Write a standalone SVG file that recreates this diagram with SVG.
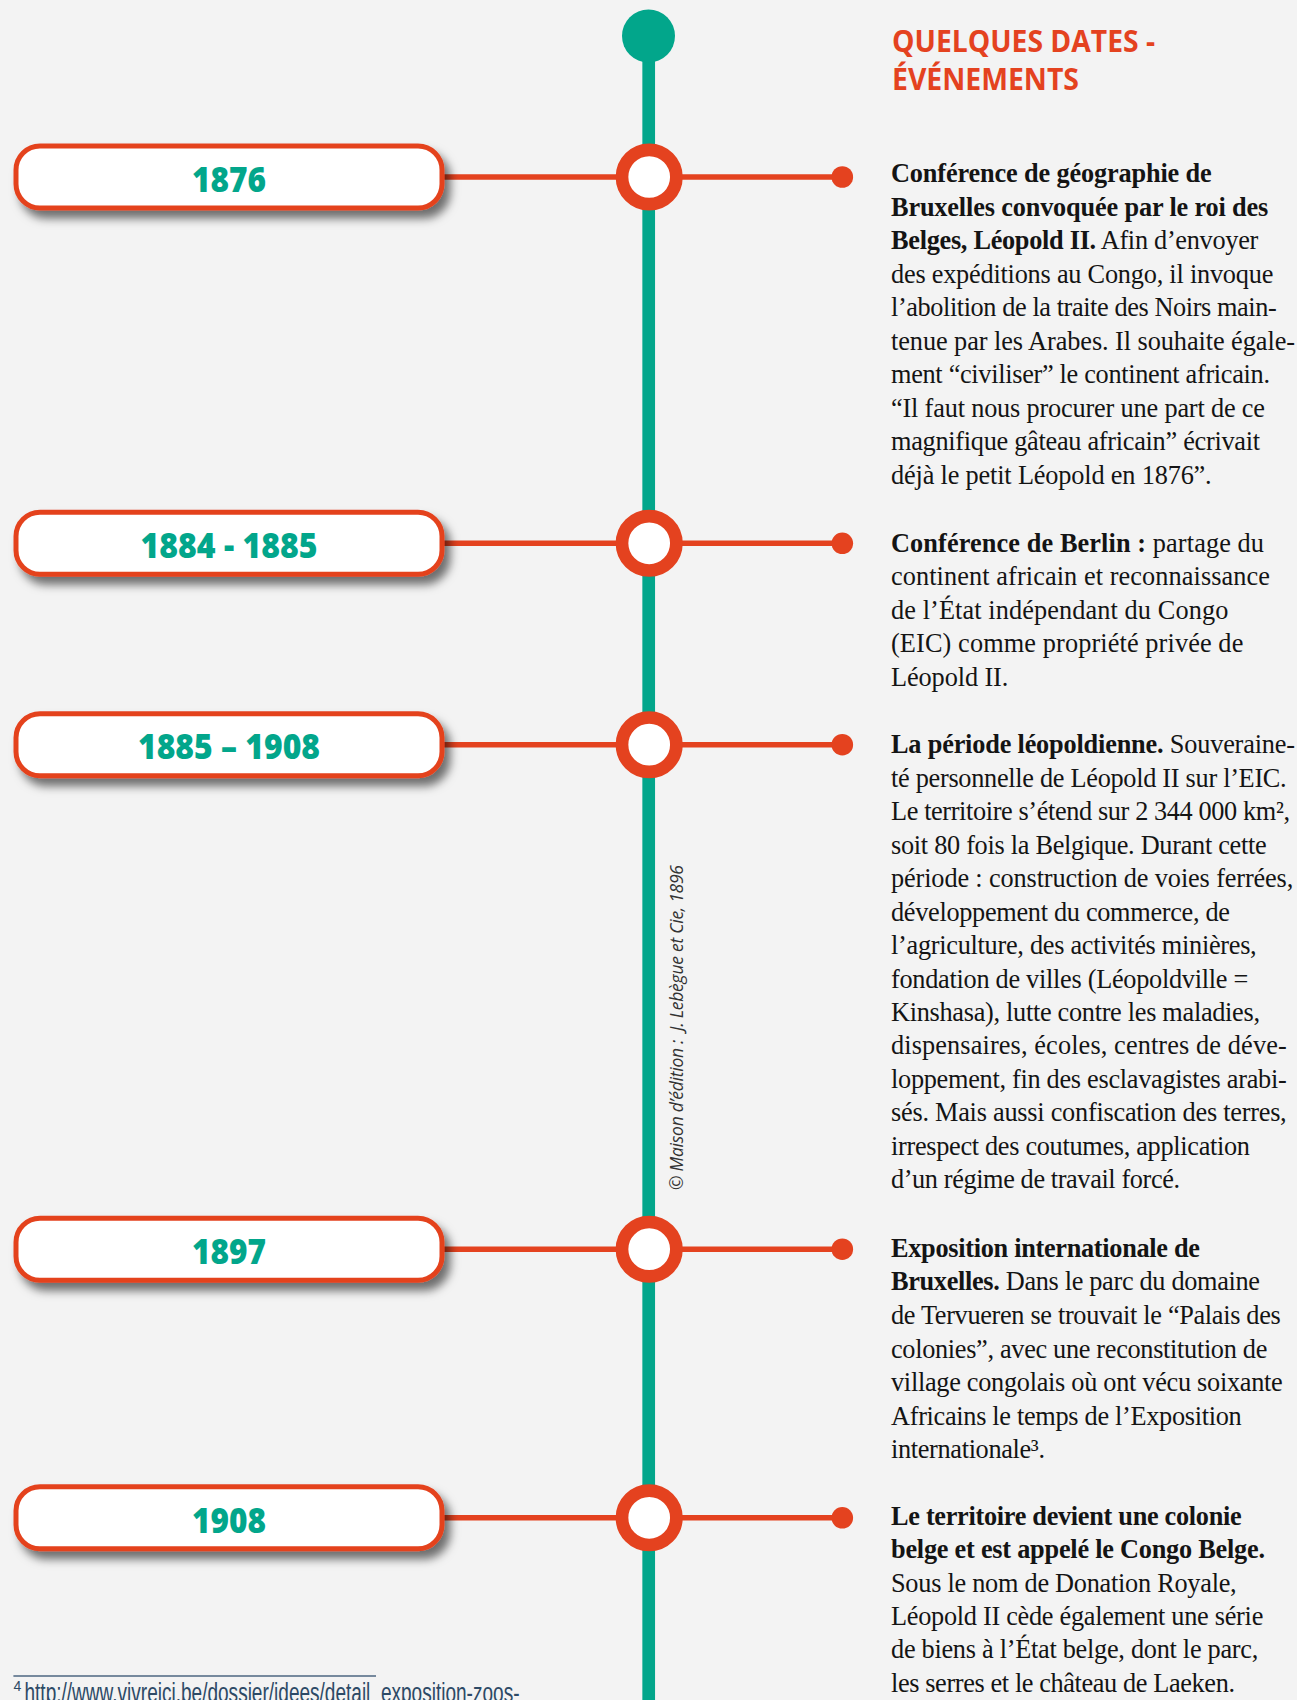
<svg xmlns="http://www.w3.org/2000/svg" width="1297" height="1700" viewBox="0 0 1297 1700">
<defs>
<filter id="shadow" x="-10%" y="-30%" width="125%" height="180%">
<feDropShadow dx="6" dy="8" stdDeviation="5" flood-color="#000" flood-opacity="0.55"/>
</filter>
<style>
.box{fill:#fff;stroke:#e4421f;stroke-width:5}
.date{font-family:"Open Sans","Liberation Sans",sans-serif;font-weight:800;font-size:35px;fill:#02a68b;text-anchor:middle}
.ring{fill:#fff;stroke:#e4421f;stroke-width:12.7}
.conn{stroke:#e4421f;stroke-width:5.5;fill:none}
.dot{fill:#e4421f}
.spine{stroke:#02a68b;stroke-width:12.7}
.body{font-family:"Liberation Serif","Times New Roman",serif;font-size:26.3px;fill:#141414}
.b{font-weight:700}
.head{font-family:"Open Sans","Liberation Sans",sans-serif;font-weight:700;font-size:30px;fill:#e4421f}
.credit{font-family:"Open Sans","Liberation Sans",sans-serif;font-style:italic;font-size:17.5px;fill:#333}
.foot{font-family:"Liberation Sans","Open Sans",sans-serif;font-size:27px;fill:#2d4a66}
</style>
</defs>
<rect x="0" y="0" width="1297" height="1700" fill="#f3f3f3"/>

<g id="spine">
<line class="spine" x1="648.7" y1="36" x2="648.7" y2="1700"/>
<circle cx="648.5" cy="36" r="26.5" fill="#02a68b"/>
</g>

<g id="connectors">
<line class="conn" x1="440" y1="177" x2="842" y2="177"/>
<line class="conn" x1="440" y1="543.3" x2="842" y2="543.3"/>
<line class="conn" x1="440" y1="744.7" x2="842" y2="744.7"/>
<line class="conn" x1="440" y1="1249.2" x2="842" y2="1249.2"/>
<line class="conn" x1="440" y1="1517.8" x2="842" y2="1517.8"/>
<circle class="dot" cx="842.3" cy="177" r="10.8"/>
<circle class="dot" cx="842.3" cy="543.3" r="10.8"/>
<circle class="dot" cx="842.3" cy="744.7" r="10.8"/>
<circle class="dot" cx="842.3" cy="1249.2" r="10.8"/>
<circle class="dot" cx="842.3" cy="1517.8" r="10.8"/>
</g>

<g id="rings">
<circle class="ring" cx="649.2" cy="177" r="27.2"/>
<circle class="ring" cx="649.2" cy="543.3" r="27.2"/>
<circle class="ring" cx="649.2" cy="744.7" r="27.2"/>
<circle class="ring" cx="649.2" cy="1249.2" r="27.2"/>
<circle class="ring" cx="649.2" cy="1517.8" r="27.2"/>
</g>

<g id="node-1876">
<rect class="box" x="16" y="146" width="426" height="62" rx="24" filter="url(#shadow)"/>
<text class="date" x="229" y="191.7" textLength="74" lengthAdjust="spacingAndGlyphs">1876</text>
</g>
<g id="node-1884">
<rect class="box" x="16" y="512.3" width="426" height="62" rx="24" filter="url(#shadow)"/>
<text class="date" x="229" y="558.3" textLength="177" lengthAdjust="spacingAndGlyphs">1884 - 1885</text>
</g>
<g id="node-1885">
<rect class="box" x="16" y="713.7" width="426" height="62" rx="24" filter="url(#shadow)"/>
<text class="date" x="229" y="759.3" textLength="182" lengthAdjust="spacingAndGlyphs">1885 – 1908</text>
</g>
<g id="node-1897">
<rect class="box" x="16" y="1218.2" width="426" height="62" rx="24" filter="url(#shadow)"/>
<text class="date" x="229" y="1263.9" textLength="74" lengthAdjust="spacingAndGlyphs">1897</text>
</g>
<g id="node-1908">
<rect class="box" x="16" y="1486.8" width="426" height="62" rx="24" filter="url(#shadow)"/>
<text class="date" x="229" y="1532.5" textLength="74" lengthAdjust="spacingAndGlyphs">1908</text>
</g>

<g id="title">
<text class="head" x="892" y="51.7" textLength="263" lengthAdjust="spacingAndGlyphs">QUELQUES DATES -</text>
<text class="head" x="892" y="90" textLength="187" lengthAdjust="spacingAndGlyphs">ÉVÉNEMENTS</text>
</g>

<g id="text-1876" class="body">
<text x="891" y="182.3" class="b" textLength="320.7">Conférence de géographie de</text>
<text x="891" y="215.8" class="b" textLength="377.3">Bruxelles convoquée par le roi des</text>
<text x="891" y="249.3" textLength="367.3"><tspan class="b">Belges, Léopold II.</tspan> Afin d’envoyer</text>
<text x="891" y="282.8" textLength="382.3">des expéditions au Congo, il invoque</text>
<text x="891" y="316.3" textLength="385.7">l’abolition de la traite des Noirs main-</text>
<text x="891" y="349.8" textLength="404">tenue par les Arabes. Il souhaite égale-</text>
<text x="891" y="383.3" textLength="379">ment “civiliser” le continent africain.</text>
<text x="891" y="416.8" textLength="374">“Il faut nous procurer une part de ce</text>
<text x="891" y="450.3" textLength="369">magnifique gâteau africain” écrivait</text>
<text x="891" y="483.8" textLength="320.7">déjà le petit Léopold en 1876”.</text>
</g>

<g id="text-1884" class="body">
<text x="891" y="551.7" textLength="373"><tspan class="b">Conférence de Berlin :</tspan> partage du</text>
<text x="891" y="585.1" textLength="379">continent africain et reconnaissance</text>
<text x="891" y="618.6" textLength="337.3">de l’État indépendant du Congo</text>
<text x="891" y="652" textLength="352.3">(EIC) comme propriété privée de</text>
<text x="891" y="685.5" textLength="117.3">Léopold II.</text>
</g>

<g id="text-1885" class="body">
<text x="891" y="753.3" textLength="404"><tspan class="b">La période léopoldienne.</tspan> Souveraine-</text>
<text x="891" y="786.8" textLength="395.7">té personnelle de Léopold II sur l’EIC.</text>
<text x="891" y="820.2" textLength="399">Le territoire s’étend sur 2 344 000 km²,</text>
<text x="891" y="853.7" textLength="375.7">soit 80 fois la Belgique. Durant cette</text>
<text x="891" y="887.1" textLength="402.3">période : construction de voies ferrées,</text>
<text x="891" y="920.6" textLength="339">développement du commerce, de</text>
<text x="891" y="954.1" textLength="365.7">l’agriculture, des activités minières,</text>
<text x="891" y="987.5" textLength="357.3">fondation de villes (Léopoldville =</text>
<text x="891" y="1021" textLength="369">Kinshasa), lutte contre les maladies,</text>
<text x="891" y="1054.4" textLength="395.7">dispensaires, écoles, centres de déve-</text>
<text x="891" y="1087.9" textLength="395.7">loppement, fin des esclavagistes arabi-</text>
<text x="891" y="1121.4" textLength="395.7">sés. Mais aussi confiscation des terres,</text>
<text x="891" y="1154.8" textLength="359">irrespect des coutumes, application</text>
<text x="891" y="1188.3" textLength="289">d’un régime de travail forcé.</text>
</g>

<g id="text-1897" class="body">
<text x="891" y="1256.7" class="b" textLength="309">Exposition internationale de</text>
<text x="891" y="1290.3" textLength="369"><tspan class="b">Bruxelles.</tspan> Dans le parc du domaine</text>
<text x="891" y="1323.9" textLength="389.7">de Tervueren se trouvait le “Palais des</text>
<text x="891" y="1357.5" textLength="376.3">colonies”, avec une reconstitution de</text>
<text x="891" y="1391.1" textLength="391.7">village congolais où ont vécu soixante</text>
<text x="891" y="1424.7" textLength="350.7">Africains le temps de l’Exposition</text>
<text x="891" y="1458.3" textLength="154">internationale³.</text>
</g>

<g id="text-1908" class="body">
<text x="891" y="1525" class="b" textLength="350.7">Le territoire devient une colonie</text>
<text x="891" y="1558.3" class="b" textLength="374">belge et est appelé le Congo Belge.</text>
<text x="891" y="1591.7" textLength="345.7">Sous le nom de Donation Royale,</text>
<text x="891" y="1625" textLength="372.3">Léopold II cède également une série</text>
<text x="891" y="1658.4" textLength="367.3">de biens à l’État belge, dont le parc,</text>
<text x="891" y="1691.7" textLength="344">les serres et le château de Laeken.</text>
</g>

<g id="credit">
<text class="credit" x="683" y="1190" transform="rotate(-90 683 1190)" textLength="325">© Maison d’édition :&#160; J. Lebègue et Cie, 1896</text>
</g>

<g id="footnote">
<line x1="13.4" y1="1676" x2="376" y2="1676" stroke="#4d6680" stroke-width="1.3"/>
<text class="foot" x="13.5" y="1702"><tspan font-size="14" dy="-11">4</tspan><tspan dy="11" x="24.5" textLength="495" lengthAdjust="spacingAndGlyphs">http://www.vivreici.be/dossier/idees/detail_exposition-zoos-</tspan></text>
</g>
</svg>
